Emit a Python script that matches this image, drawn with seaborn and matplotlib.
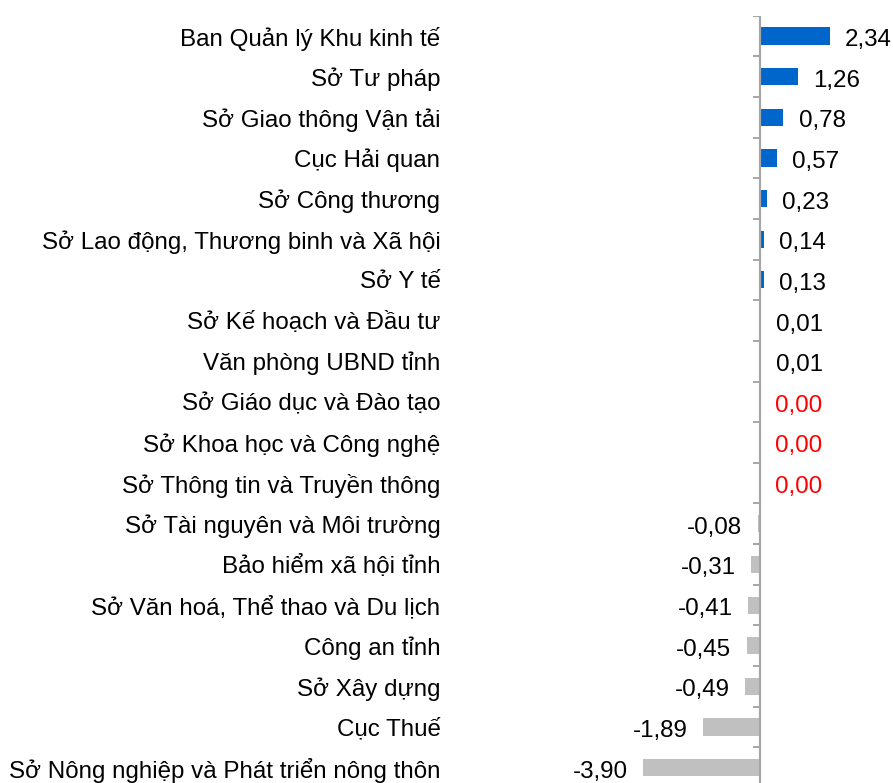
import matplotlib
matplotlib.use("Agg")
import matplotlib.pyplot as plt
import seaborn as sns
import numpy as np
import pandas as pd

categories = [
    "Ban Quản lý Khu kinh tế",
    "Sở Tư pháp",
    "Sở Giao thông Vận tải",
    "Cục Hải quan",
    "Sở Công thương",
    "Sở Lao động, Thương binh và Xã hội",
    "Sở Y tế",
    "Sở Kế hoạch và Đầu tư",
    "Văn phòng UBND tỉnh",
    "Sở Giáo dục và Đào tạo",
    "Sở Khoa học và Công nghệ",
    "Sở Thông tin và Truyền thông",
    "Sở Tài nguyên và Môi trường",
    "Bảo hiểm xã hội tỉnh",
    "Sở Văn hoá, Thể thao và Du lịch",
    "Công an tỉnh",
    "Sở Xây dựng",
    "Cục Thuế",
    "Sở Nông nghiệp và Phát triển nông thôn",
]
values = [2.34, 1.26, 0.78, 0.57, 0.23, 0.14, 0.13, 0.01, 0.01, 0.00, 0.00, 0.00,
          -0.08, -0.31, -0.41, -0.45, -0.49, -1.89, -3.90]

sns.set_theme(style="white")
plt.rcParams['font.family'] = ['Liberation Sans', 'DejaVu Sans']

df = pd.DataFrame({"cat": categories, "val": values})
df["sign"] = np.where(df["val"] >= 0, "pos", "neg")

W, H = 893, 783
fig = plt.figure(figsize=(W / 100, H / 100), dpi=100)
left_px, right_px = 446, 893
top_px, bot_px = 15.7, 788.0
ax = fig.add_axes([left_px / W, (H - bot_px) / H, (right_px - left_px) / W, (bot_px - top_px) / H])

sns.barplot(data=df, x="val", y="cat", hue="sign", order=categories,
            palette={"pos": "#0066CC", "neg": "#C0C0C0"}, dodge=False,
            width=0.42, legend=False, ax=ax, saturation=1, linewidth=0)

ppu = 29.9
ax.set_xlim((left_px - 760) / ppu, (right_px - 760) / ppu)
n = len(categories)
ax.set_ylim(n - 0.5, -0.5)
for s in ax.spines.values():
    s.set_visible(False)
ax.set_xticks([])
ax.set_xlabel("")
ax.set_ylabel("")
ax.tick_params(axis="y", length=0, pad=4, labelsize=17.4, labelcolor="#000000")

axis_col = "#A6A6A6"
ax.axvline(0, color=axis_col, lw=1.6, zorder=3)
ax.hlines(np.arange(-0.5, n, 1.0), -0.23, 0, color=axis_col, lw=1.4, zorder=3)

fs = 17.4
for i, v in enumerate(values):
    txt = f"{abs(v):.2f}".replace(".", ",")
    if v < 0:
        txt = "-" + txt
        ax.annotate(txt, (v, i), xytext=(-11, -7.2), textcoords="offset points",
                    ha="right", va="baseline", fontsize=fs, color="#000000")
    else:
        col = "#FF0000" if v == 0 else "#000000"
        ax.annotate(txt, (v, i), xytext=(11, -7.2), textcoords="offset points",
                    ha="left", va="baseline", fontsize=fs, color=col)

fig.savefig("out.png", dpi=100)
